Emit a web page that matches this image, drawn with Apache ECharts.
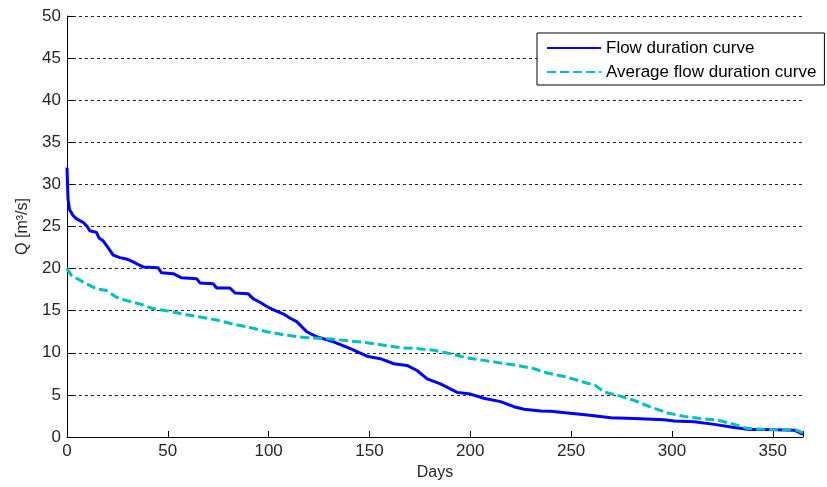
<!DOCTYPE html>
<html>
<head>
<meta charset="utf-8">
<script src="https://cdn.jsdelivr.net/npm/echarts@6/dist/echarts.min.js"></script>
<style>html,body{margin:0;padding:0;background:#fff}#c{width:827px;height:487px}</style>
</head>
<body>
<div id="c"></div>
<script>
const seriesNames = ['Flow duration curve', 'Average flow duration curve'];
const xTicks = [0, 50, 100, 150, 200, 250, 300, 350];
const yTicks = [0, 5, 10, 15, 20, 25, 30, 35, 40, 45, 50];
const flowDays = [0,0.5,1.3,3,4.7,8,10,11.3,14.6,16,17.9,20,21.2,22.9,26.2,30,32.8,36,37.8,45.2,46.9,52.7,56.8,64.3,65.9,72.5,74.2,80.8,83.3,89.9,92.4,95.7,99.1,102.4,107.4,110.7,113.9,116,118.9,123.9,132.2,140.5,148.8,155.4,162.1,168.6,173.6,178.6,185.2,193.5,200.1,206.7,215,221.6,226.6,234.9,239.9,248.2,258.1,269.7,281.2,296.1,301.1,311,321,329.3,338.4,347.5,360.7,365];
const flowQ = [32,28.2,27,26.3,25.9,25.5,25,24.5,24.3,23.6,23.3,22.6,22.2,21.6,21.3,21.1,20.8,20.4,20.2,20.1,19.5,19.4,18.9,18.8,18.3,18.2,17.7,17.7,17.1,17.0,16.4,16.0,15.5,15.1,14.6,14.1,13.7,13.2,12.5,11.9,11.3,10.5,9.6,9.3,8.7,8.5,7.9,6.9,6.3,5.3,5.1,4.6,4.2,3.6,3.3,3.1,3.05,2.85,2.6,2.3,2.2,2.05,1.9,1.8,1.5,1.2,0.9,0.9,0.8,0.3];
const avgDays = [0,0.5,2.2,8,14.6,19.6,24.5,29.5,36.1,42.7,49.4,57.6,65.9,74.2,82.5,90.8,99.1,107.4,114.8,118.9,132.2,140.5,148.8,157.1,165.4,173.6,181.9,190.2,198.4,206.7,215,223.3,231.6,238.2,248.2,256.4,262.2,266.3,273,281.2,289.5,297.8,306.1,314.3,322.7,330.9,337.6,347.5,360.7,365];
const avgQ = [20,19.9,19.2,18.4,17.6,17.4,16.6,16.2,15.8,15.25,15.0,14.6,14.25,13.9,13.4,13.0,12.5,12.15,11.9,11.8,11.6,11.4,11.2,10.9,10.6,10.5,10.3,9.9,9.4,9.1,8.8,8.5,8.1,7.6,7.1,6.5,6.1,5.35,4.95,4.35,3.55,2.85,2.45,2.2,2.0,1.5,1.0,0.9,0.9,0.5];

const zip = (a, b) => a.map((v, i) => [v, b[i]]);
const font = 'Arial, "Liberation Sans", sans-serif';
const chart = echarts.init(document.getElementById('c'), null, {renderer: 'canvas'});
chart.setOption({
  animation: false,
  backgroundColor: '#fff',
  grid: {left: 67, top: 16, right: 24, bottom: 50, containLabel: false},
  legend: {
    orient: 'vertical', left: 537, top: 33,
    padding: [5, 8, 3, 9],
    itemWidth: 54, itemHeight: 14, itemGap: 4,
    borderColor: '#000', borderWidth: 1, backgroundColor: '#fff',
    itemStyle: {opacity: 0},
    textStyle: {fontFamily: font, fontSize: 17, color: '#000', lineHeight: 20},
    data: seriesNames
  },
  xAxis: {
    type: 'value', min: 0, max: 365, interval: 50,
    name: 'Days', nameLocation: 'middle', nameGap: 28,
    nameTextStyle: {fontFamily: font, fontSize: 16, color: '#262626'},
    axisLine: {lineStyle: {color: '#000', width: 1}},
    axisTick: {inside: true, length: 6, lineStyle: {color: '#000'}},
    axisLabel: {fontFamily: font, fontSize: 17, color: '#262626', margin: 6,
      formatter: v => xTicks.includes(v) ? String(v) : ''},
    splitLine: {show: false}
  },
  yAxis: {
    type: 'value', min: 0, max: 50, interval: 5,
    name: 'Q [m³/s]', nameLocation: 'middle', nameGap: 36, nameRotate: 90,
    nameTextStyle: {fontFamily: font, fontSize: 16, color: '#262626'},
    axisLine: {show: true, lineStyle: {color: '#000', width: 1}},
    axisTick: {show: true, inside: true, length: 6, lineStyle: {color: '#000'}},
    axisLabel: {fontFamily: font, fontSize: 17, color: '#262626', margin: 6,
      formatter: v => yTicks.includes(v) ? String(v) : ''},
    splitLine: {show: true, lineStyle: {color: '#222', width: 1, type: [3, 3]}}
  },
  series: [
    {name: seriesNames[0], type: 'line', data: zip(flowDays, flowQ), symbol: 'none',
      lineStyle: {color: '#0000ff', width: 3}, itemStyle: {color: '#0000ff'}},
    {name: seriesNames[1], type: 'line', data: zip(avgDays, avgQ), symbol: 'none',
      lineStyle: {color: '#00bfbf', width: 3, type: [9, 4]}, itemStyle: {color: '#00bfbf'}}
  ]
});
</script>
</body>
</html>
